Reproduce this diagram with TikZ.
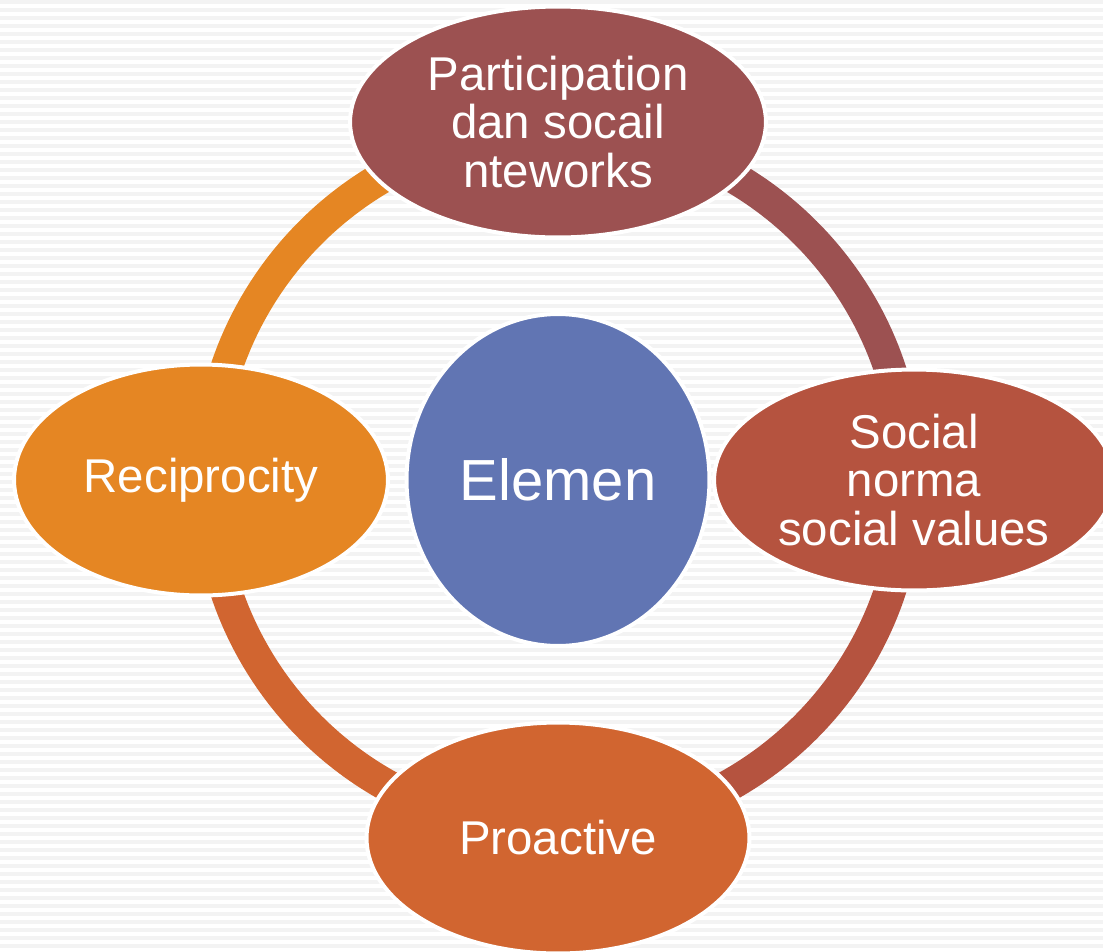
\documentclass[tikz,border=0pt]{standalone}
\usepackage{fontspec}
\setmainfont{Liberation Sans}
\usetikzlibrary{shapes.geometric}
\definecolor{stripegray}{HTML}{F3F3F3}
\definecolor{wine}{HTML}{9C5151}
\definecolor{brick}{HTML}{B5533F}
\definecolor{rust}{HTML}{D16530}
\definecolor{amber}{HTML}{E58623}
\definecolor{slate}{HTML}{6175B3}
\tikzset{
    bubble/.style={
        ellipse,
        draw=white,
        line width=0.08cm,
        inner sep=0mm,
        text=white,
        align=center,
        font=\fontsize{27}{27.6}\selectfont
    },
    link/.style={line width=0.64cm}
}

\begin{document}
\begin{tikzpicture}[x={(0.02cm,0cm)},y={(0cm,-0.02cm)}]
        \useasboundingbox (0,0) rectangle (1103,951);
        \clip (0,0) rectangle (1103,951);
        % striped backdrop
        \foreach \s in {0,8,...,944}
            \fill[stripegray] (0,\s) rectangle (1103,\s+4);
        % hub in the middle
        \node[bubble,fill=slate,minimum width=6.06cm,minimum height=6.64cm,
              font=\fontsize{33}{36}\selectfont] (elemen) at (558,480) {Elemen};
        % ring of arcs, one colour per quarter
        \draw[link,wine]  (elemen.center) ++(90:7cm)  arc[start angle=90,end angle=0,radius=7cm];
        \draw[link,brick] (elemen.center) ++(0:7cm)   arc[start angle=0,end angle=-90,radius=7cm];
        \draw[link,rust]  (elemen.center) ++(-90:7cm) arc[start angle=-90,end angle=-180,radius=7cm];
        \draw[link,amber] (elemen.center) ++(180:7cm) arc[start angle=180,end angle=90,radius=7cm];
        % the four elements
        \node[bubble,fill=wine,minimum width=8.32cm,minimum height=4.62cm]
            (partisipasi) at (558,122) {Participation\\dan socail\\nteworks};
        \node[bubble,fill=brick,minimum width=8.0cm,minimum height=4.42cm]
            (norma) at (914,480) {Social\\norma\\social values};
        \node[bubble,fill=rust,minimum width=7.66cm,minimum height=4.62cm]
            (proaktif) at (558,838) {Proactive};
        \node[bubble,fill=amber,minimum width=7.48cm,minimum height=4.62cm]
            (resiprositas) at (201,480) {Reciprocity};
    \end{tikzpicture}
\end{document}
